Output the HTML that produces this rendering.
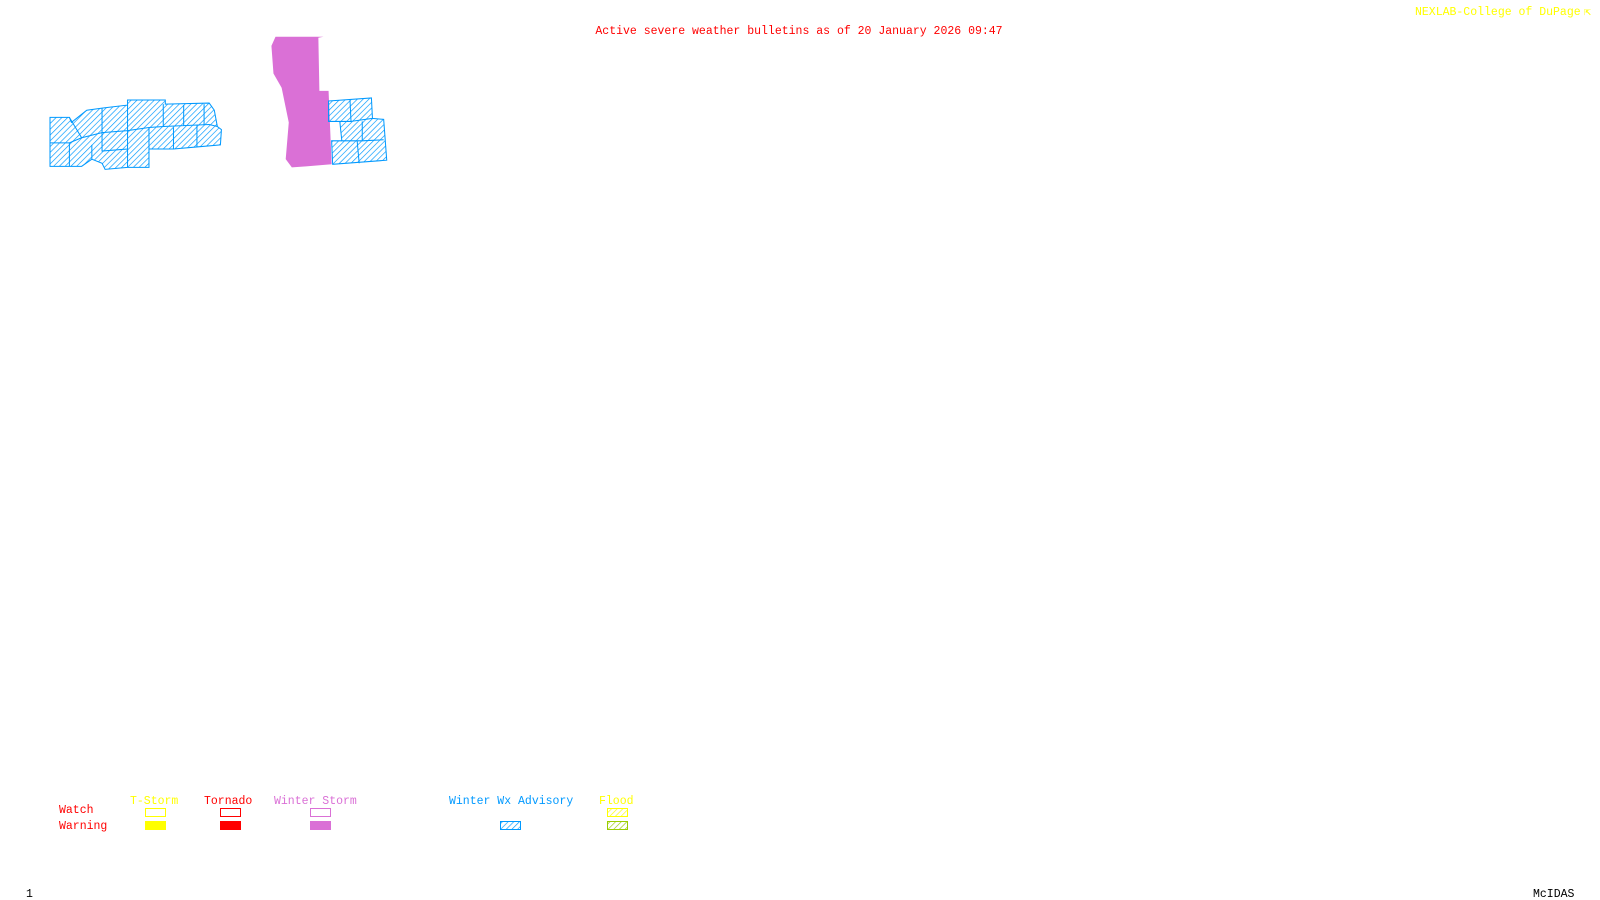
<!DOCTYPE html>
<html><head><meta charset="utf-8"><style>
html,body{margin:0;padding:0;background:#fff;width:1600px;height:900px;overflow:hidden}
svg{position:absolute;left:0;top:0}
text{font-family:"Liberation Mono",monospace;font-size:11.5px}
</style></head><body>
<svg width="1600" height="900" viewBox="0 0 1600 900">
<defs>
<pattern id="hb" width="4" height="4" patternUnits="userSpaceOnUse" patternTransform="rotate(45)"><line x1="0" y1="0" x2="0" y2="4" stroke="#0099ff" stroke-width="1.3"/></pattern>
<pattern id="hy" width="4" height="4" patternUnits="userSpaceOnUse" patternTransform="rotate(45)"><line x1="0" y1="0" x2="0" y2="4" stroke="#ffff00" stroke-width="1.3"/></pattern>
<pattern id="hg" width="4" height="4" patternUnits="userSpaceOnUse" patternTransform="rotate(45)"><line x1="0" y1="0" x2="0" y2="4" stroke="#99cc00" stroke-width="1.3"/></pattern>
</defs>
<text x="1415" y="15" fill="#ffff00">NEXLAB-College of DuPage</text>
<text x="1584" y="15" fill="#ffff00">⇱</text>
<text x="799" y="34" fill="#ff0000" text-anchor="middle">Active severe weather bulletins as of 20 January 2026 09:47</text>
<g transform="scale(1.0204)">
<polygon fill="#da70d6" points="266,45 270,36 317,36 312,37 313,89 322,89 325,161 300,163 286,164 280,156 283,120 276,86 268,72"/>
<g fill="url(#hb)" stroke="#0099ff" stroke-width="1">
<polygon points="49,115 68,115 70,120 85,108 100,106 108,105 125,103 125,98 162,98 162,102 205,101 210,108 213,124 217,127 216,142 193,144 170,146 146,146 146,164 125,164 103,166 100,160 90,156 80,163 49,163"/>
<path fill="none" d="M68,115 L80,135 L100,130 L100,106 M100,130 L125,128 L125,103 M125,128 L146,125 L160,124 L160,102 M146,125 L146,146 M125,128 L125,146 L100,148 L100,130 M49,140 L68,140 L80,135 M68,140 L68,163 M90,142 L90,156 M125,146 L125,164 M170,125 L170,146 M180,103 L180,123 M193,123 L193,144 M160,124 L205,122 L213,124 M200,102 L200,122"/>
<polygon points="322,99 364,96 365,116 376,117 379,157 326,161 325,138 335,138 333,119 322,119"/>
<path fill="none" d="M343,98 L344,119 L333,119 M344,119 L365,116 M355,119 L355,138 L335,138 M355,138 L376,137 M350,138 L352,160"/>
</g>
</g>
<g>
<text x="59" y="813" fill="#ff0000">Watch</text>
<text x="59" y="829" fill="#ff0000">Warning</text>
<text x="130" y="804" fill="#ffff00">T-Storm</text>
<text x="204" y="804" fill="#ff0000">Tornado</text>
<text x="274" y="804" fill="#da70d6">Winter Storm</text>
<text x="449" y="804" fill="#0099ff">Winter Wx Advisory</text>
<text x="599" y="804" fill="#ffff00">Flood</text>
<rect x="145.5" y="808.5" width="20" height="8" fill="none" stroke="#ffff00"/>
<rect x="145" y="821" width="21" height="9" fill="#ffff00"/>
<rect x="220.5" y="808.5" width="20" height="8" fill="none" stroke="#ff0000"/>
<rect x="220" y="821" width="21" height="9" fill="#ff0000"/>
<rect x="310.5" y="808.5" width="20" height="8" fill="none" stroke="#da70d6"/>
<rect x="310" y="821" width="21" height="9" fill="#da70d6"/>
<rect x="500.5" y="821.5" width="20" height="8" fill="url(#hb)" stroke="#0099ff"/>
<rect x="607.5" y="808.5" width="20" height="8" fill="url(#hy)" stroke="#ffff00"/>
<rect x="607.5" y="821.5" width="20" height="8" fill="url(#hg)" stroke="#99cc00"/>
</g>
<text x="26" y="897" fill="#000">1</text>
<text x="1533" y="897" fill="#000">McIDAS</text>
</svg>
</body></html>
